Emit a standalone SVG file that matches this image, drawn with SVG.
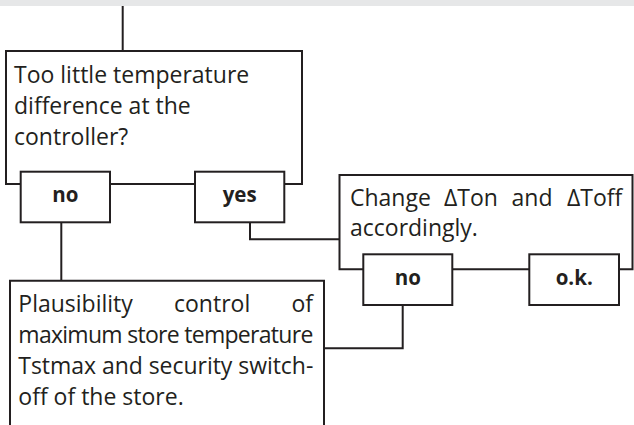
<svg xmlns="http://www.w3.org/2000/svg" width="634" height="425" viewBox="0 0 634 425">
<style>
.ln{fill:none;stroke:#231f20;stroke-width:2;stroke-linejoin:miter;stroke-linecap:butt}
.bx{fill:#fff;stroke:#231f20;stroke-width:2}
.t{font-family:"Open Sans","Liberation Sans",sans-serif;font-size:23px;fill:#231f20}
.b{font-family:"Open Sans","Liberation Sans",sans-serif;font-size:20.5px;font-weight:bold;fill:#231f20;text-anchor:middle}
</style>
<rect x="0" y="0" width="634" height="6" fill="#e6e7e8"/>
<g id="connectors">
<path class="ln" d="M122.7,6 V51"/>
<path class="ln" d="M61.3,222.3 V280"/>
<path class="ln" d="M250,222.3 V239.3 H339.5"/>
<path class="ln" d="M402.7,305 V348.3 H324"/>
</g>
<g id="question">
<path class="ln" d="M20.7,184 H6 V51 H302 V184 H284.3 M110,184 H195"/>
<text class="t" x="14" y="83.3">Too little temperature</text>
<text class="t" x="14" y="114">difference at the</text>
<text class="t" x="14" y="145">controller?</text>
</g>
<g id="q-no">
<rect class="bx" x="20.7" y="171.7" width="89.3" height="50.6"/>
<text class="b" x="65.3" y="202">no</text>
</g>
<g id="q-yes">
<rect class="bx" x="195" y="171.7" width="89.3" height="50.6"/>
<text class="b" x="239.7" y="202">yes</text>
</g>
<g id="change">
<path class="ln" d="M363.3,269.3 H339.5 V175 H632.5 V269.3 H619 M452.3,269.3 H529.3"/>
<text class="t" y="206"><tspan x="350">Change</tspan><tspan x="444">ΔTon</tspan><tspan x="511.5">and</tspan><tspan x="622.3" text-anchor="end">ΔToff</tspan></text>
<text class="t" x="350" y="236">accordingly.</text>
</g>
<g id="c-no">
<rect class="bx" x="363.3" y="254.3" width="89" height="50.7"/>
<text class="b" x="407.8" y="284.5">no</text>
</g>
<g id="c-ok">
<rect class="bx" x="529.3" y="254.3" width="89.7" height="50.7"/>
<text class="b" x="574.2" y="284.5">o.k.</text>
</g>
<g id="plausibility">
<path class="ln" d="M10,426 V280.7 H324 V426"/>
<text class="t" y="312"><tspan x="18.3">Plausibility</tspan><tspan x="174">control</tspan><tspan x="313" text-anchor="end">of</tspan></text>
<text class="t" x="18.3" y="343" textLength="295">maximum store temperature</text>
<text class="t" x="18.3" y="374" textLength="295">Tstmax and security switch-</text>
<text class="t" x="18.3" y="405">off of the store.</text>
</g>
</svg>
